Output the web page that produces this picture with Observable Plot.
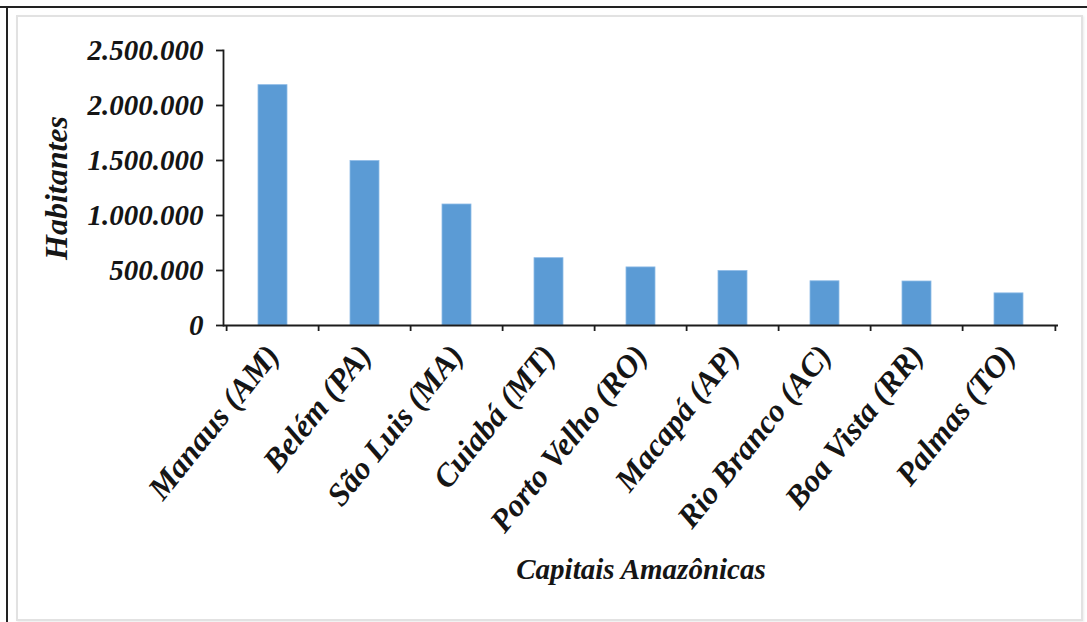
<!DOCTYPE html>
<html>
<head>
<meta charset="utf-8">
<script src="https://cdn.jsdelivr.net/npm/d3@7"></script>
<script src="https://cdn.jsdelivr.net/npm/@observablehq/plot@0.6"></script>
<style>
  html, body { margin: 0; padding: 0; background: #fff; }
  #page { position: relative; width: 1087px; height: 622px; overflow: hidden; background: #fff; }
  .rule-top { position: absolute; left: 0; top: 6px; width: 1087px; height: 2px; background: #222; }
  .rule-left { position: absolute; left: 6px; top: 6px; width: 2px; height: 616px; background: #222; }
  .card { position: absolute; left: 16px; top: 15px; width: 1067px; height: 606px; box-sizing: border-box;
          border: 2px solid #e2e2e2; box-shadow: 1px 1px 2px rgba(0,0,0,0.08); }
  #chart { position: absolute; left: 0; top: 0; }
</style>
</head>
<body>
<div id="page">
  <div class="rule-top"></div>
  <div class="rule-left"></div>
  <div class="card"></div>
  <div id="chart"></div>
</div>
<script>
// População das capitais amazônicas (habitantes)
const capitais = [
  "Manaus (AM)", "Belém (PA)", "São Luis (MA)", "Cuiabá (MT)", "Porto Velho (RO)",
  "Macapá (AP)", "Rio Branco (AC)", "Boa Vista (RR)", "Palmas (TO)"
];
const habitantes = [2185000, 1495000, 1100000, 612000, 528000, 495000, 402000, 400000, 292000];
const yTicks = [0, 500000, 1000000, 1500000, 2000000, 2500000];
const yTitle = "Habitantes";
const xTitle = "Capitais Amazônicas";

const dados = capitais.map((capital, i) => ({capital, habitantes: habitantes[i]}));

const W = 1087, H = 622;
const mL = 223, mR = 29, mT = 50, mB = 297;
const step = (W - mL - mR) / capitais.length;

// números com ponto como separador de milhar
const fmt = d3.formatLocale({decimal: ",", thousands: ".", grouping: [3], currency: ["R$", ""]}).format(",d");

const chart = Plot.plot({
  width: W,
  height: H,
  marginLeft: mL,
  marginRight: mR,
  marginTop: mT,
  marginBottom: mB,
  style: {
    fontFamily: "'Liberation Serif', 'Times New Roman', serif",
    fontWeight: "bold",
    fontStyle: "italic",
    background: "transparent",
    color: "#151515"
  },
  x: {domain: capitais, paddingInner: 0.69, paddingOuter: 0.345},
  y: {domain: [0, 2500000]},
  marks: [
    Plot.barY(dados, {x: "capital", y: "habitantes", fill: "#5b9bd5", stroke: "#8dbbe6", strokeWidth: 0.8}),
    Plot.ruleY([0], {stroke: "#1c1c1c", strokeWidth: 1.8}),
    Plot.frame({anchor: "left", stroke: "#1c1c1c", strokeWidth: 1.8}),
    Plot.axisY({ticks: yTicks, tickSize: 7, tickPadding: 13, tickFormat: fmt, fontSize: 29,
                strokeWidth: 1.8, stroke: "#1c1c1c", label: null}),
    // rótulos das capitais, inclinados
    Plot.axisX({tickSize: 0, tickPadding: 24, tickRotate: -51, fontSize: 32, label: null}),
    // marcas de divisão entre categorias
    Plot.axisX({tickSize: 6, text: null, dx: -step / 2, strokeWidth: 1.8, stroke: "#1c1c1c", label: null}),
    Plot.axisX({ticks: [capitais[capitais.length - 1]], tickSize: 6, text: null, dx: step / 2,
                strokeWidth: 1.8, stroke: "#1c1c1c", label: null}),
    Plot.text([yTitle], {text: d => d, frameAnchor: "left", textAnchor: "middle", rotate: -90, dx: -167, fontSize: 32}),
    Plot.text([xTitle], {text: d => d, frameAnchor: "bottom", dy: 253, fontSize: 29})
  ]
});

document.getElementById("chart").appendChild(chart);
</script>
</body>
</html>
